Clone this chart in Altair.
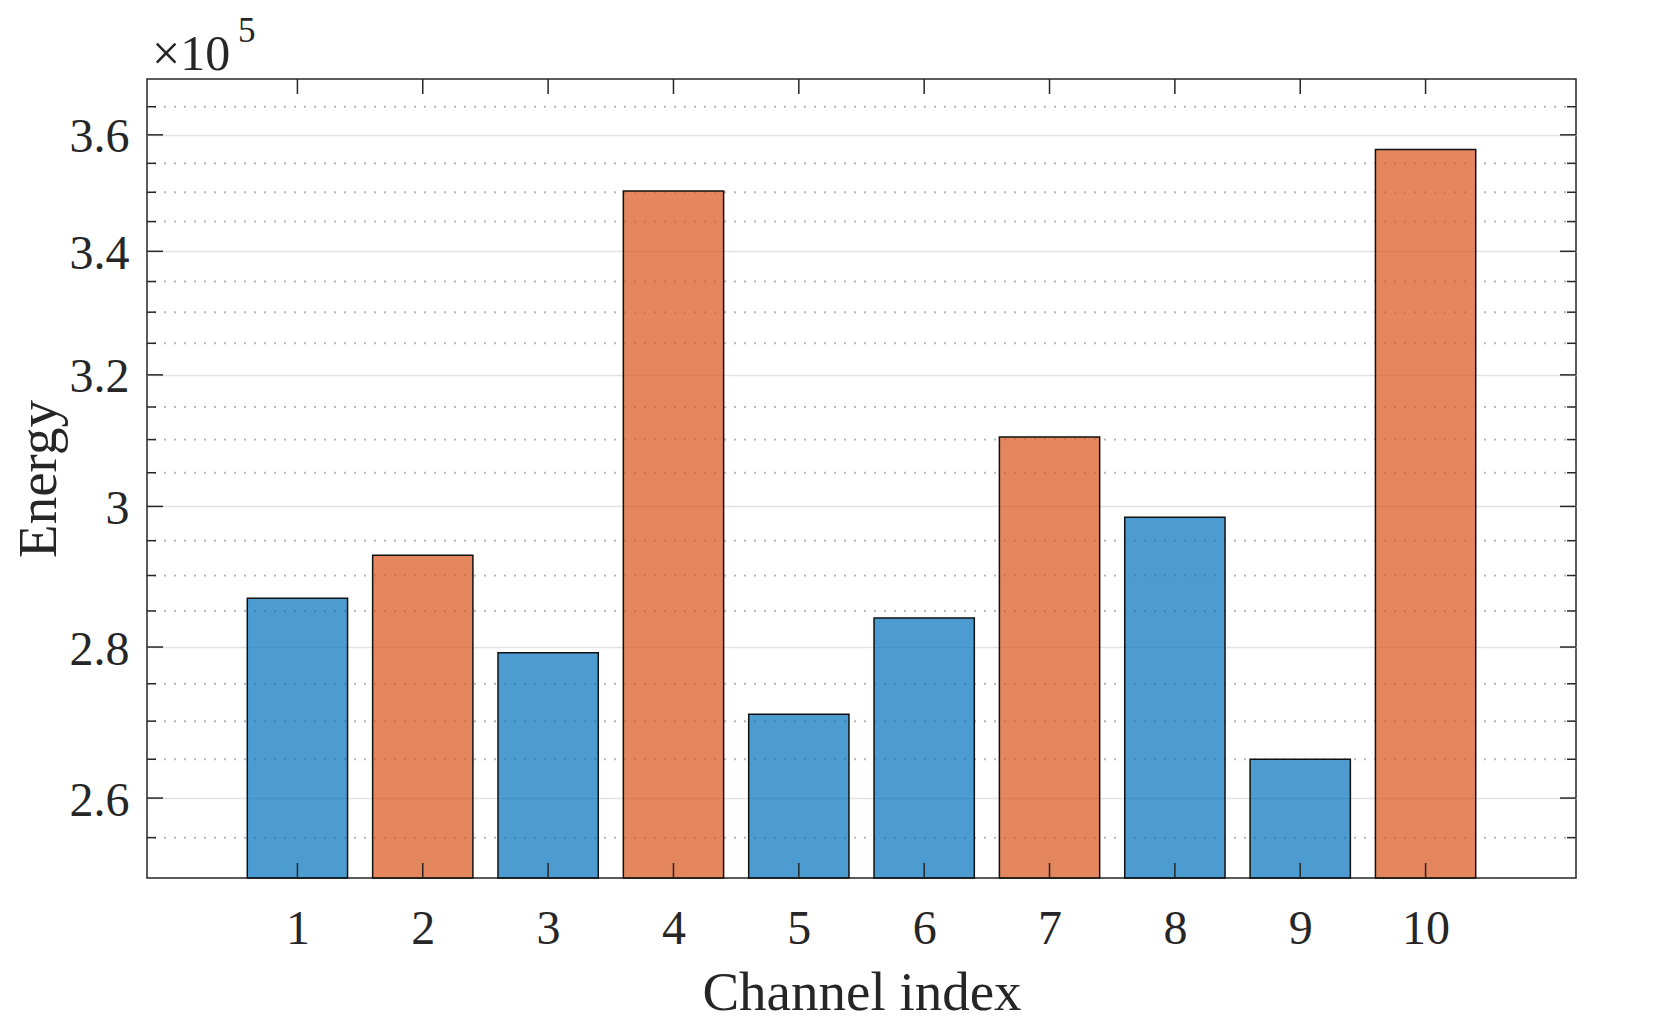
import altair as alt
import pandas as pd

# ---- data ----
channels = [1, 2, 3, 4, 5, 6, 7, 8, 9, 10]
energy = [286800, 292900, 279200, 350200, 270900, 284000, 310400, 298400, 265000, 357400]
groups = ["low", "high", "low", "high", "low", "low", "high", "low", "low", "high"]
y_major = [260000, 280000, 300000, 320000, 340000, 360000]
y_minor = [255000, 265000, 270000, 275000, 285000, 290000, 295000, 305000, 310000,
           315000, 325000, 330000, 335000, 345000, 350000, 355000, 365000]
y_domain = [250000, 370000]
x_domain = [-0.2, 11.2]
half_bar = 0.4
exp_base = "×10"
exp_power = "5"

# ---- style ----
W, H = 1429, 799
FONT = "Liberation Serif"
TEXT = "#262626"
BLUE = "#0072BD"
ORANGE = "#D95319"

x_scale = alt.Scale(domain=x_domain, nice=False, zero=False)
y_scale = alt.Scale(type="log", domain=y_domain, nice=False)

x_axis = alt.Axis(
    values=channels, format="d", grid=False, ticks=False, tickSize=0, domain=False,
    labelFont=FONT, labelFontSize=48, labelColor=TEXT, labelBaseline="alphabetic",
    labelPadding=65, labelFlush=False, labelOverlap=False,
    title="Channel index", titleFont=FONT, titleFontSize=55, titleFontWeight="normal",
    titleColor=TEXT, titleBaseline="alphabetic", titleY=131)
y_axis = alt.Axis(
    values=y_major, labelExpr="format(datum.value / 100000, '~g')",
    grid=True, gridColor="#e2e2e2", gridWidth=1.5, ticks=False, tickSize=0, domain=False,
    labelFont=FONT, labelFontSize=48, labelColor=TEXT, labelPadding=18, labelOffset=3,
    labelOverlap=False, labelFlush=False,
    title="Energy", titleFont=FONT, titleFontSize=55, titleFontWeight="normal",
    titleColor=TEXT, titleBaseline="alphabetic", titleX=-92, titleAngle=270)

df = pd.DataFrame({"channel": channels, "energy": energy, "group": groups})
df_major = pd.DataFrame({"energy": y_major})
df_minor = pd.DataFrame({"energy": y_minor})
df_ch = pd.DataFrame({"x0": channels})

def Y(field="energy"):
    return alt.Y(f"{field}:Q", scale=y_scale, axis=y_axis, title="Energy")

def X(field="x0"):
    return alt.X(f"{field}:Q", scale=x_scale, axis=x_axis, title="Channel index")

minor_grid = alt.Chart(df_minor).mark_rule(
    color="#b8b8b8", strokeWidth=2, strokeDash=[2, 8]
).encode(y=Y())

bars = alt.Chart(df).transform_calculate(
    x0=f"datum.channel - {half_bar}", x1=f"datum.channel + {half_bar}"
).mark_bar(fillOpacity=0.7, stroke="#111111", strokeWidth=1.5).encode(
    x=X(),
    x2="x1:Q",
    y=Y(),
    y2=alt.datum(y_domain[0]),
    color=alt.Color("group:N", scale=alt.Scale(domain=["low", "high"], range=[BLUE, ORANGE]),
                    legend=None),
)

tick_style = dict(color=TEXT, strokeWidth=1.5)
yt_left = alt.Chart(df_major).mark_rule(**tick_style).encode(
    y=Y(), x=alt.value(0), x2=alt.value(16))
yt_right = alt.Chart(df_major).mark_rule(**tick_style).encode(
    y=Y(), x=alt.value(W - 16), x2=alt.value(W))
ym_left = alt.Chart(df_minor).mark_rule(**tick_style).encode(
    y=Y(), x=alt.value(0), x2=alt.value(9))
ym_right = alt.Chart(df_minor).mark_rule(**tick_style).encode(
    y=Y(), x=alt.value(W - 9), x2=alt.value(W))
xt_bottom = alt.Chart(df_ch).mark_rule(**tick_style).encode(
    x=X(), y=alt.value(H), y2=alt.value(H - 15))
xt_top = alt.Chart(df_ch).mark_rule(**tick_style).encode(
    x=X(), y=alt.value(0), y2=alt.value(15))

exp_text = alt.Chart(pd.DataFrame({"t": [exp_base]})).mark_text(
    align="left", baseline="alphabetic", font=FONT, fontSize=50, color=TEXT
).encode(text="t:N", x=alt.value(5), y=alt.value(-9))
pow_text = alt.Chart(pd.DataFrame({"t": [exp_power]})).mark_text(
    align="left", baseline="alphabetic", font=FONT, fontSize=35, color=TEXT
).encode(text="t:N", x=alt.value(91), y=alt.value(-37))

chart = alt.layer(
    minor_grid, bars, yt_left, yt_right, ym_left, ym_right, xt_bottom, xt_top,
    exp_text, pow_text
).properties(
    width=W, height=H,
    background="white",
    autosize=alt.AutoSizeParams(type="none"),
    padding={"left": 139, "top": 71, "right": 70, "bottom": 145},
).configure_view(stroke=TEXT, strokeWidth=1.5)

chart.save("out.html", embed_options={"renderer": "svg", "actions": False})
